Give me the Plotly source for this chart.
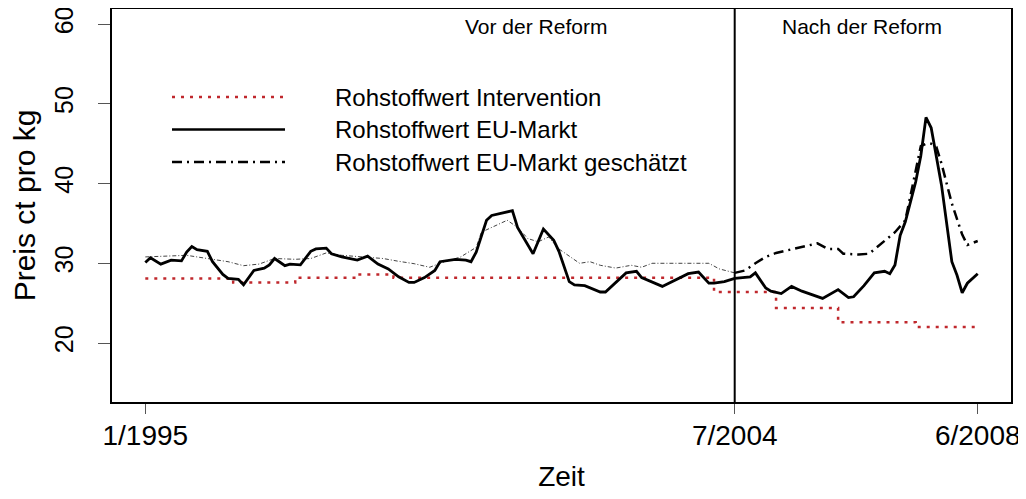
import plotly.graph_objects as go

# month index: 0 = 1/1995, 114 = 7/2004, 161 = 6/2008
tick_months = [0, 114, 161]
tick_labels = ["1/1995", "7/2004", "6/2008"]
reform_month = 114

# Rohstoffwert Intervention (step series, value from each month on)
int_months = [0, 17, 29, 41, 48, 110, 122, 134, 149, 161]
int_values = [28.1, 27.6, 28.2, 28.6, 28.2, 26.4, 24.4, 22.6, 22.0, 22.0]

# Rohstoffwert EU-Markt
mkt_months = [0, 1, 3, 5, 7, 8, 9, 10, 12, 13, 15, 16, 18, 19, 21, 23, 24, 25, 27, 28,
              30, 32, 33, 35, 36, 38, 41, 43, 45, 47, 49, 51, 52, 54, 56, 57, 60, 62, 63, 64,
              66, 67, 71, 72, 75, 77, 79, 80, 82, 83, 85, 88, 89, 91, 93, 95, 96, 100, 103, 105,
              107, 109, 110, 112, 114, 116, 117, 118, 120, 121, 123, 125, 127, 131, 134, 136, 137, 139, 141, 143,
              144, 145, 146, 147, 149, 150, 151, 152, 153, 154, 156, 157, 158, 159, 161]
mkt_values = [30.1, 30.7, 29.9, 30.4, 30.3, 31.4, 32.1, 31.7, 31.5, 30.2, 28.6, 28.1, 28.0, 27.3, 29.1, 29.4, 29.8, 30.6, 29.7, 29.9,
              29.8, 31.5, 31.8, 31.9, 31.2, 30.8, 30.4, 30.9, 29.9, 29.3, 28.3, 27.6, 27.6, 28.2, 29.1, 30.2, 30.5, 30.4, 30.2, 31.4,
              35.4, 36.0, 36.6, 34.5, 31.2, 34.3, 32.9, 31.5, 27.7, 27.3, 27.2, 26.4, 26.4, 27.6, 28.8, 29.0, 28.2, 27.1, 28.1, 28.7,
              28.9, 27.5, 27.5, 27.7, 28.1, 28.2, 28.3, 28.8, 26.9, 26.5, 26.2, 27.1, 26.5, 25.6, 26.7, 25.7, 25.8, 27.2, 28.8, 29.0,
              28.7, 29.8, 33.5, 35.2, 40.2, 43.5, 48.3, 47.0, 43.5, 39.8, 30.2, 28.5, 26.3, 27.5, 28.7]

# Rohstoffwert EU-Markt geschätzt, before the reform (thin) and after (thick)
est_pre_months = [0, 4, 8, 12, 16, 19, 22, 25, 29, 32, 35, 38, 42, 46, 49, 52, 55, 57, 60, 61,
                  64, 65, 67, 70, 72, 74, 76, 78, 80, 83, 84, 86, 88, 91, 94, 96, 98, 103, 107, 109,
                  111, 113, 114]
est_pre_values = [30.8, 30.9, 31.0, 30.6, 30.2, 29.7, 29.9, 30.6, 30.5, 30.6, 31.3, 31.0, 30.8, 30.6, 30.25, 29.95, 29.5, 30.0, 30.6, 30.8,
                  32.0, 33.9, 34.5, 35.4, 34.5, 33.1, 32.7, 33.3, 31.8, 30.4, 30.0, 30.2, 29.75, 29.4, 29.75, 29.5, 30.0, 30.0, 30.0, 30.0,
                  29.3, 29.0, 28.8]
est_post_months = [114, 116, 118, 120, 122, 124, 127, 130, 132, 134, 135, 137, 138, 140, 142, 145, 147, 149, 150, 151,
                   152, 153, 154, 156, 158, 159, 161]
est_post_values = [28.8, 29.1, 30.0, 30.8, 31.3, 31.6, 32.0, 32.5, 31.8, 31.8, 31.2, 31.1, 31.1, 31.2, 32.3, 33.9, 35.4, 41.5, 44.7, 45.0,
                   45.0, 44.6, 42.5, 37.5, 33.6, 32.3, 32.8]

legend_labels = ["Rohstoffwert Intervention", "Rohstoffwert EU-Markt", "Rohstoffwert EU-Markt geschätzt"]

RED = "#c0282d"
FONT = "Liberation Sans, Arial, sans-serif"
DOT = "3px,6px"
DASHDOT = "10px,5px,2px,5px"

fig = go.Figure()
fig.add_trace(go.Scatter(x=int_months, y=int_values, mode="lines", line_shape="hv",
                         line=dict(color=RED, width=2.5, dash=DOT)))
fig.add_trace(go.Scatter(x=est_pre_months, y=est_pre_values, mode="lines",
                         line=dict(color="#444444", width=1, dash="4px,2px,1px,2px")))
fig.add_trace(go.Scatter(x=est_post_months, y=est_post_values, mode="lines",
                         line=dict(color="black", width=2.5, dash=DASHDOT)))
fig.add_trace(go.Scatter(x=mkt_months, y=mkt_values, mode="lines",
                         line=dict(color="black", width=2.8)))

# reform line
fig.add_shape(type="line", xref="x", yref="paper", x0=reform_month, x1=reform_month, y0=0, y1=1,
              line=dict(color="black", width=2))

# hand-drawn legend (long line samples like the original); positions in page pixels
L, W, B, H = 112, 899, 402, 393
def px(x):
    return (x - L) / W
def py(y):
    return (B - y) / H

styles = [dict(color=RED, width=2.5, dash=DOT), dict(color="black", width=2.5),
          dict(color="black", width=2.5, dash=DASHDOT)]
for i, (lab, st) in enumerate(zip(legend_labels, styles)):
    yy = 97 + i * 32.5
    fig.add_shape(type="line", xref="paper", yref="paper", x0=px(172), x1=px(285),
                  y0=py(yy), y1=py(yy), line=st)
    fig.add_annotation(text=lab, xref="paper", yref="paper", x=px(333), y=py(yy),
                       xanchor="left", yanchor="middle", showarrow=False,
                       font=dict(size=24, color="black", family=FONT))

fig.add_annotation(text="Vor der Reform", xref="paper", yref="paper", x=px(536), y=py(27),
                   xanchor="center", yanchor="middle", showarrow=False,
                   font=dict(size=21, color="black", family=FONT))
fig.add_annotation(text="Nach der Reform", xref="paper", yref="paper", x=px(862), y=py(27),
                   xanchor="center", yanchor="middle", showarrow=False,
                   font=dict(size=21, color="black", family=FONT))

# the page body adds an 8px margin, so the figure is 8px smaller and margins shifted
fig.update_layout(
    width=1018, height=491,
    margin=dict(l=104, r=15, t=1, b=97, autoexpand=False),
    plot_bgcolor="white", paper_bgcolor="white",
    showlegend=False,
    font=dict(family=FONT, color="black"),
)
fig.update_xaxes(range=[-6.44, 167.44], tickvals=tick_months, ticktext=tick_labels,
                 showgrid=False, zeroline=False, showline=True, mirror=True,
                 linecolor="black", linewidth=2, ticks="outside", ticklen=10,
                 tickcolor="#555555", tickfont=dict(size=28), automargin=False,
                 ticklabelstandoff=-3, ticklabeloverflow="allow",
                 title=dict(text="Zeit", font=dict(size=28), standoff=17))
fig.update_yaxes(range=[12.6, 61.9], tickvals=[20, 30, 40, 50, 60],
                 showgrid=False, zeroline=False, showline=True, mirror=True,
                 linecolor="black", linewidth=2, ticks="outside", ticklen=12,
                 tickcolor="#555555", tickfont=dict(size=25), tickangle=-90,
                 ticklabelstandoff=15, automargin=False, ticklabeloverflow="allow",
                 title=dict(text="Preis ct pro kg", font=dict(size=30), standoff=10))

fig.write_html("out.html")
